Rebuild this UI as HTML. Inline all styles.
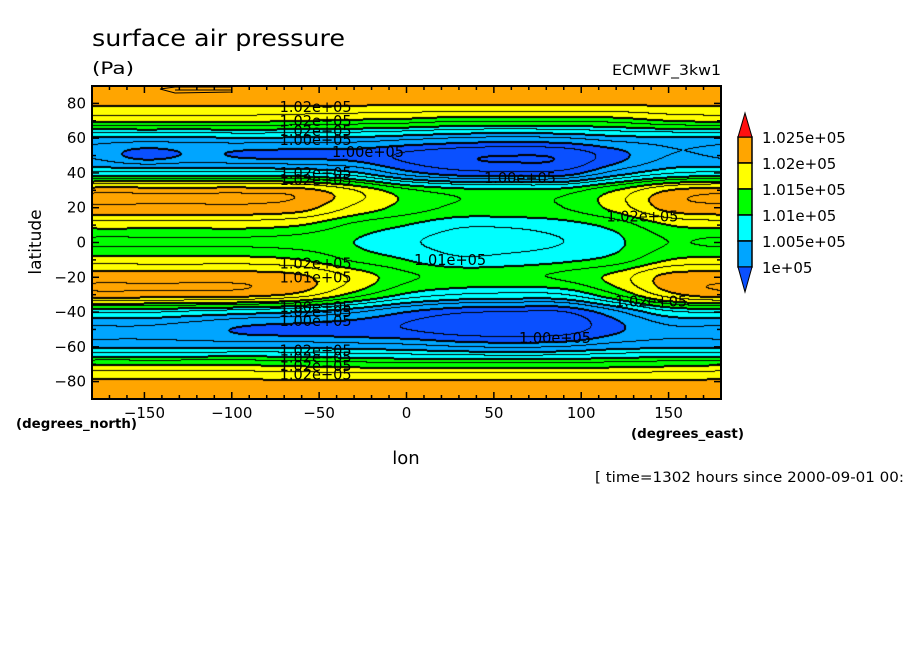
<!DOCTYPE html>
<html><head><meta charset="utf-8"><style>
body{margin:0;background:#fff;width:904px;height:654px;overflow:hidden;position:relative;font-family:"DejaVu Sans","Liberation Sans",sans-serif}
#fld{position:absolute;left:92px;top:86px}
#ov{position:absolute;left:0;top:0}
</style></head><body>
<canvas id="fld" width="629" height="313"></canvas>
<svg id="ov" width="904" height="654" font-family="DejaVu Sans, Liberation Sans, sans-serif">
<text x="92" y="46" font-size="23" textLength="253" lengthAdjust="spacingAndGlyphs">surface air pressure</text>
<text x="92" y="74" font-size="17" textLength="42" lengthAdjust="spacingAndGlyphs">(Pa)</text>
<text x="612" y="75" font-size="14" textLength="109" lengthAdjust="spacingAndGlyphs">ECMWF_3kw1</text>
<text transform="translate(41,242) rotate(-90)" font-size="17" text-anchor="middle">latitude</text>
<text x="406" y="464" font-size="18" text-anchor="middle">lon</text>
<text x="16" y="428" font-size="13" font-weight="bold" textLength="121" lengthAdjust="spacingAndGlyphs">(degrees_north)</text>
<text x="631" y="438" font-size="13" font-weight="bold" textLength="113" lengthAdjust="spacingAndGlyphs">(degrees_east)</text>
<text x="595" y="482" font-size="14" textLength="309" lengthAdjust="spacingAndGlyphs">[ time=1302 hours since 2000-09-01 00:</text>
<g id="axes"></g><g id="labels" font-size="15"></g><g id="cbar"></g>
</svg>
<script>
const levels=[1000,1005,1010,1015,1020,1025];
const colors=['#0a50ff','#00a5ff','#00ffff','#00ff00','#ffff00','#ffa500','#ff1010'];
const lats=[90,80,70,60,50,40,30,20,10,0,-10,-20,-30,-40,-50,-60,-70,-80,-90];
const lons=[-180,-150,-120,-90,-60,-30,0,30,60,90,120,150,180];
// pressure in hPa; columns per longitude (rows = lats)
const colM180=[1022,1020.5,1015.5,1004.5,1002,1008,1021.5,1022,1016,1012,1016,1021.5,1021.5,1008,1002,1004.5,1014.5,1020.5,1022];
const colM150=[1022,1020.5,1015.5,1004.5,999,1008,1021.5,1022,1016,1012,1016,1021.5,1021.5,1008,1002,1004.5,1014.5,1020.5,1022];
const colM120=[1022,1020.5,1015.5,1004.5,1000.5,1008,1021.5,1022,1016,1012,1016,1021.5,1021.5,1007,1001,1004.5,1014.5,1020.5,1022];
const colM90=[1022,1020.5,1015.5,1005,999.5,1008,1021.5,1022,1016,1012,1016,1021.5,1021,1006,999.5,1004.5,1014.5,1020.5,1022];
const colM60=[1022,1020.5,1015,1004.5,999.3,1007.5,1021,1021,1015,1011.5,1015,1020.5,1019,1005,999,1004.5,1014,1020.5,1022];
const colM30=[1022,1020.5,1014.5,1004.5,999,1005.5,1017.5,1017,1012,1010,1012,1017,1014,1003,998.5,1004,1013.5,1020.5,1022];
const col0=[1022,1020.5,1014,1003.5,997,1001,1013,1014,1010,1008,1010,1013,1009.5,1000,997.5,1003.5,1013,1020.5,1022];
const col30=[1022,1020.5,1013,1002.5,995.5,998.5,1011,1012,1008,1006.5,1008,1012,1007.5,998,996,1002.5,1013,1020.5,1022];
const col60=[1022,1020.5,1013,1002,995,998,1010.5,1012,1008,1006.5,1008.5,1012,1007,997.5,995.5,1002,1013,1020.5,1022];
const col90=[1022,1020.5,1013,1002.5,995.5,998.5,1011,1012.5,1009,1007.5,1009.5,1013,1007.5,997.5,996,1002.5,1013,1020.5,1022];
const col120=[1022,1020.5,1013.5,1004,999,1003.5,1015,1016,1011,1009.5,1011,1016,1012.5,1002,999.5,1004,1013.5,1020.5,1022];
const col150=[1022,1020.5,1015,1004.5,1002.5,1007,1020,1021,1015,1012.5,1015,1021,1019,1007,1002,1004.5,1014,1020.5,1022];
const col180=colM180;
const cols=[colM180,colM150,colM120,colM90,colM60,colM30,col0,col30,col60,col90,col120,col150,col180];

const PX=92,PY=86,PW=629,PH=313;
const xS=lon=>PX+(lon+180)/360*PW;
const yS=lat=>PY+(90-lat)/180*PH;
function cr(p0,p1,p2,p3,t){return 0.5*((2*p1)+(-p0+p2)*t+(2*p0-5*p1+4*p2-p3)*t*t+(-p0+3*p1-3*p2+p3)*t*t*t);}
const NI=lons.length,NJ=lats.length;
function g(i,j){
  i=((i%(NI-1))+(NI-1))%(NI-1);j=Math.max(0,Math.min(NJ-1,j));return cols[i][j];}
function field(lon,lat){
  const fi=(lon-lons[0])/(lons[1]-lons[0]);let fj=(lats[0]-lat)/(lats[0]-lats[1]);
  fj=Math.max(0,Math.min(NJ-1.0001,fj));
  const i=Math.floor(fi),j=Math.floor(fj),a=fi-i,b=fj-j;
  const r=[];for(let dj=-1;dj<=2;dj++)r.push(cr(g(i-1,j+dj),g(i,j+dj),g(i+1,j+dj),g(i+2,j+dj),a));
  return cr(r[0],r[1],r[2],r[3],b);
}
function hex(c){return [parseInt(c.substr(1,2),16),parseInt(c.substr(3,2),16),parseInt(c.substr(5,2),16)];}
const rgb=colors.map(hex);
const cv=document.getElementById('fld'),ctx=cv.getContext('2d');
const img=ctx.createImageData(PW,PH);
const V=new Float32Array(PW*PH);
for(let y=0;y<PH;y++)for(let x=0;x<PW;x++){
  const lon=-180+(x+0.5)/PW*360,lat=90-(y+0.5)/PH*180;V[y*PW+x]=field(lon,lat);}
for(let y=0;y<PH;y++)for(let x=0;x<PW;x++){
  const v=V[y*PW+x];let k=0;while(k<levels.length&&v>=levels[k])k++;
  const c=rgb[k],p=(y*PW+x)*4;img.data[p]=c[0];img.data[p+1]=c[1];img.data[p+2]=c[2];img.data[p+3]=255;}
function blk(x,y){if(x<0||y<0||x>=PW||y>=PH)return;const p=(y*PW+x)*4;img.data[p]=img.data[p+1]=img.data[p+2]=0;}
for(let y=0;y<PH;y++)for(let x=0;x<PW;x++){
  const k=Math.floor(V[y*PW+x]/2.5);
  for(const[dx,dy] of [[1,0],[0,1]]){const xx=x+dx,yy=y+dy;if(xx>=PW||yy>=PH)continue;
    const k2=Math.floor(V[yy*PW+xx]/2.5);
    if(k2!==k){blk(x,y);const m=Math.max(k,k2);if(m%2===0){blk(xx,yy);}}}}
ctx.putImageData(img,0,0);

const NS='http://www.w3.org/2000/svg';
function mk(tag,at,parent){const e=document.createElementNS(NS,tag);for(const k in at)e.setAttribute(k,at[k]);parent.appendChild(e);return e;}
const ax=document.getElementById('axes');
const frame=mk('rect',{x:PX,y:PY,width:PW,height:PH,fill:'none',stroke:'#000','stroke-width':2},ax);


const odd=mk('path',{d:'M160 89 L175 87 L232 87 L232 92 L175 93 Z M175 90 L232 90',fill:'none',stroke:'#000','stroke-width':1},ax);


const xTicks=[-150,-100,-50,0,50,100,150];
const yTicks=[80,60,40,20,0,-20,-40,-60,-80];
for(let l=-170;l<=170;l+=10){const x=xS(l),big=l%50===0;
  mk('line',{x1:x,x2:x,y1:PY+PH,y2:PY+PH-(big?7:4),stroke:'#000','stroke-width':1.5},ax);
  mk('line',{x1:x,x2:x,y1:PY,y2:PY+(big?7:4),stroke:'#000','stroke-width':1.5},ax);}
for(let l=-80;l<=80;l+=10){const y=yS(l),big=l%20===0;
  mk('line',{x1:PX,x2:PX+(big?7:4),y1:y,y2:y,stroke:'#000','stroke-width':1.5},ax);
  mk('line',{x1:PX+PW,x2:PX+PW-(big?7:4),y1:y,y2:y,stroke:'#000','stroke-width':1.5},ax);}
xTicks.forEach(v=>{const t=mk('text',{x:xS(v),y:418,'font-size':15,'text-anchor':'middle'},ax);t.textContent=(v<0?'\u2212':'')+Math.abs(v);
  
  });
yTicks.forEach(v=>{const t=mk('text',{x:86,y:yS(v)+5,'font-size':15,'text-anchor':'end'},ax);t.textContent=(v<0?'\u2212':'')+Math.abs(v);
  
  });
// contour labels
const labTexts=['1.02e+05','1.02e+05','1.02e+05','1.00e+05','1.00e+05','1.00e+05','1.02e+05','1.02e+05','1.01e+05','1.02e+05','1.02e+05','1.01e+05','1.00e+05','1.00e+05','1.02e+05','1.02e+05','1.00e+05','1.02e+05','1.02e+05','1.02e+05','1.02e+05'];
const labLon=[-52,-52,-52,-52,-22,65,-52,-52,25,135,-52,-52,-52,-52,140,-52,85,-52,-52,-52,-52];
const labLat=[78,70,64,59,52,37,40,36,-10,15,-12,-20,-37,-45,-34,-40,-55,-62,-66,-71,-76];
const lg=document.getElementById('labels');
labTexts.forEach((s,i)=>{const t=mk('text',{x:xS(labLon[i]),y:yS(labLat[i])+5,'text-anchor':'middle',textLength:72,lengthAdjust:'spacingAndGlyphs'},lg);t.textContent=s;
  
  });
// colorbar
const cb=document.getElementById('cbar');
const cbTop=137,cbH=26,cbX=738,cbW=14;
const cbLabels=['1.025e+05','1.02e+05','1.015e+05','1.01e+05','1.005e+05','1e+05'];
for(let i=0;i<5;i++){const r=mk('rect',{x:cbX,y:cbTop+i*cbH,width:cbW,height:cbH,fill:colors[5-i],stroke:'#000','stroke-width':1.5},cb);
  
  }
const tu=mk('polygon',{points:`${cbX},${cbTop} ${cbX+cbW},${cbTop} ${cbX+cbW/2},${cbTop-24}`,fill:colors[6],stroke:'#000','stroke-width':1},cb);


const td=mk('polygon',{points:`${cbX},${cbTop+5*cbH} ${cbX+cbW},${cbTop+5*cbH} ${cbX+cbW/2},${cbTop+5*cbH+25}`,fill:colors[0],stroke:'#000','stroke-width':1},cb);


cbLabels.forEach((s,i)=>{const t=mk('text',{x:762,y:cbTop+i*cbH+6,'font-size':15},cb);t.textContent=s;
  
  });
</script>
</body></html>
